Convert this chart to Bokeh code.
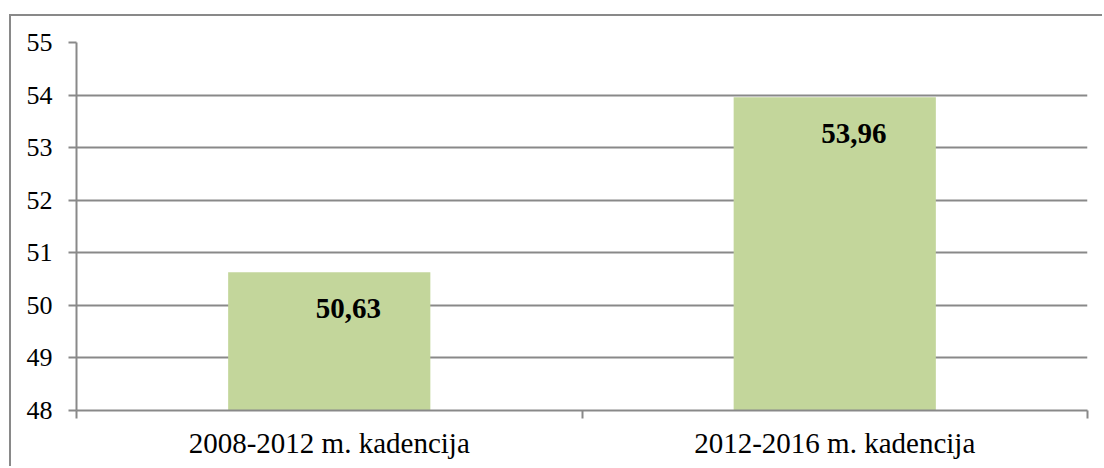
from bokeh.plotting import figure
from bokeh.models import Range1d, FixedTicker, LinearAxis
from bokeh.core.properties import value
from bokeh.embed import file_html
from bokeh.resources import INLINE

categories = ["2008-2012 m. kadencija", "2012-2016 m. kadencija"]
values = [50.63, 53.96]
y_ticks = [48, 49, 50, 51, 52, 53, 54, 55]
y_min, y_max = 48, 55

xs = [i + 0.5 for i in range(len(categories))]
labels = [f"{v:.2f}".replace(".", ",") for v in values]

GRID = "#898989"
FONT = "Liberation Serif"

p = figure(width=1093, height=452, output_backend="svg", toolbar_location=None,
           x_range=Range1d(0, len(categories)), y_range=Range1d(y_min, y_max),
           min_border_left=65, min_border_right=17, min_border_top=26, min_border_bottom=58,
           x_axis_location=None)
p.margin = (14, 0, 0, 9)
p.styles = {"border-top": f"2px solid {GRID}", "border-left": f"2px solid {GRID}"}
p.outline_line_color = None
p.background_fill_color = "white"
p.border_fill_color = "white"

p.vbar(x=xs, top=values, bottom=y_min, width=0.4, fill_color="#C3D69B", line_color=None)
p.text(x=xs, y=values, text=labels, x_offset=19, y_offset=36.5,
       text_align="center", text_baseline="alphabetic",
       text_font=value(FONT), text_font_style="bold", text_font_size="29px", text_color="black")

# y axis
ya = p.yaxis[0]
ya.ticker = FixedTicker(ticks=y_ticks)
ya.axis_line_color = GRID
ya.axis_line_width = 2
ya.major_tick_line_color = GRID
ya.major_tick_line_width = 2
ya.major_tick_out = 8
ya.major_tick_in = 0
ya.minor_tick_line_color = None
ya.major_label_standoff = 16
ya.major_label_text_font = FONT
ya.major_label_text_font_size = "26px"
ya.major_label_text_color = "black"

p.xgrid.visible = False
p.ygrid.ticker = FixedTicker(ticks=y_ticks)
p.ygrid.grid_line_color = GRID
p.ygrid.grid_line_width = 2

# x axis with boundary ticks (no labels drawn)
xa1 = LinearAxis(ticker=FixedTicker(ticks=list(range(len(categories) + 1))))
xa1.axis_line_color = GRID
xa1.axis_line_width = 2
xa1.major_tick_line_color = GRID
xa1.major_tick_line_width = 2
xa1.major_tick_out = 8
xa1.major_tick_in = 0
xa1.minor_tick_line_color = None
xa1.major_label_text_font_size = "0px"
xa1.major_label_text_color = None
xa1.major_label_standoff = 0
p.add_layout(xa1, "below")

# x axis with category labels
xa2 = LinearAxis(ticker=FixedTicker(ticks=xs))
xa2.major_label_overrides = {x: c for x, c in zip(xs, categories)}
xa2.axis_line_color = None
xa2.major_tick_line_color = None
xa2.minor_tick_line_color = None
xa2.major_label_standoff = 2
xa2.major_label_text_font = FONT
xa2.major_label_text_font_size = "29px"
xa2.major_label_text_color = "black"
p.add_layout(xa2, "below")

open("out.html", "w").write(file_html(p, INLINE))
